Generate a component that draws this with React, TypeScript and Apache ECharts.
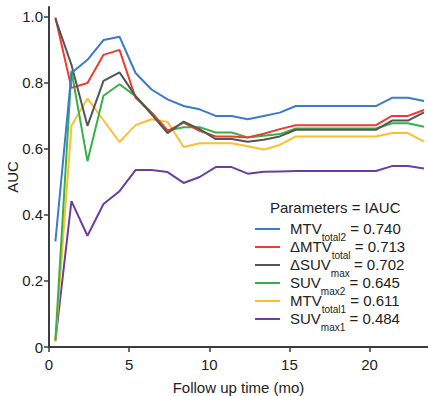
import React, { useEffect, useRef } from "react";
import * as echarts from "echarts";

const months = [0.4, 1.4, 2.4, 3.4, 4.4, 5.4, 6.4, 7.4, 8.4, 9.4, 10.4, 11.4, 12.4, 13.4, 14.4, 15.4, 16.4, 17.4, 18.4, 19.4, 20.4, 21.4, 22.4, 23.4];

const mtvTotal2 = [0.32, 0.83, 0.87, 0.93, 0.94, 0.83, 0.78, 0.75, 0.73, 0.72, 0.70, 0.70, 0.69, 0.70, 0.71, 0.73, 0.73, 0.73, 0.73, 0.73, 0.73, 0.755, 0.755, 0.745];
const dMtvTotal = [0.998, 0.785, 0.80, 0.885, 0.90, 0.755, 0.71, 0.655, 0.68, 0.655, 0.638, 0.638, 0.635, 0.646, 0.66, 0.672, 0.672, 0.672, 0.672, 0.672, 0.672, 0.70, 0.70, 0.718];
const dSuvMax = [0.995, 0.855, 0.67, 0.806, 0.832, 0.76, 0.705, 0.648, 0.683, 0.66, 0.63, 0.63, 0.622, 0.628, 0.638, 0.658, 0.658, 0.658, 0.658, 0.658, 0.658, 0.686, 0.686, 0.711];
const suvMax2 = [0.02, 0.837, 0.563, 0.761, 0.796, 0.76, 0.71, 0.656, 0.666, 0.666, 0.65, 0.65, 0.635, 0.64, 0.645, 0.662, 0.662, 0.662, 0.662, 0.662, 0.662, 0.678, 0.678, 0.667];
const mtvTotal1 = [0.015, 0.67, 0.753, 0.687, 0.621, 0.672, 0.69, 0.682, 0.606, 0.617, 0.617, 0.617, 0.608, 0.598, 0.612, 0.638, 0.638, 0.638, 0.638, 0.638, 0.638, 0.648, 0.648, 0.622];
const suvMax1 = [0.02, 0.442, 0.337, 0.433, 0.472, 0.536, 0.536, 0.53, 0.497, 0.515, 0.545, 0.545, 0.525, 0.531, 0.532, 0.533, 0.533, 0.533, 0.533, 0.533, 0.533, 0.548, 0.548, 0.541];

const xTicks = [0, 5, 10, 15, 20];
const yTicks = [0, 0.2, 0.4, 0.6, 0.8, 1.0];

const legendTitle = "Parameters = IAUC";
const legendOrder = ["MTVtotal2", "dMTVtotal", "dSUVmax", "SUVmax2", "MTVtotal1", "SUVmax1"];
const legendLabels: Record<string, [string, string, string]> = {
  MTVtotal2: ["MTV", "total2", " = 0.740"],
  dMTVtotal: ["ΔMTV", "total", " = 0.713"],
  dSUVmax: ["ΔSUV", "max", " = 0.702"],
  SUVmax2: ["SUV", "max2", " = 0.645"],
  MTVtotal1: ["MTV", "total1", " = 0.611"],
  SUVmax1: ["SUV", "max1", " = 0.484"],
};

const seriesDefs = [
  { name: "SUVmax1", data: suvMax1, color: "#6B3FA0" },
  { name: "MTVtotal1", data: mtvTotal1, color: "#FDBF2D" },
  { name: "SUVmax2", data: suvMax2, color: "#38B04A" },
  { name: "dMTVtotal", data: dMtvTotal, color: "#EE3B2F" },
  { name: "dSUVmax", data: dSuvMax, color: "#555555" },
  { name: "MTVtotal2", data: mtvTotal2, color: "#3A7BCB" },
];

const FONT = "'Liberation Sans', Arial, Helvetica, sans-serif";
const AXIS = "#3d3d3d";
const TXT = "#222";

export default function App() {
  const ref = useRef<HTMLDivElement>(null);
  useEffect(() => {
    if (!ref.current) return;
    const chart = echarts.init(ref.current, null, { renderer: "svg" });
    chart.setOption({
      animation: false,
      backgroundColor: "#fff",
      textStyle: { fontFamily: FONT },
      title: {
        text: legendTitle,
        left: 270,
        top: 199,
        padding: 0,
        textStyle: { fontSize: 15, fontWeight: "normal", color: TXT, fontFamily: FONT, lineHeight: 16 },
      },
      legend: {
        data: legendOrder,
        orient: "vertical",
        left: 255,
        top: 221,
        padding: 0,
        itemGap: -3,
        itemWidth: 25,
        itemHeight: 2,
        icon: "rect",
        formatter: (name: string) => {
          const l = legendLabels[name];
          return `{a|${l[0]}}{s|${l[1]}}{m|${l[2]}}`;
        },
        textStyle: {
          color: TXT,
          fontFamily: FONT,
          rich: {
            a: { fontSize: 15, lineHeight: 16, verticalAlign: "top", padding: [0, 0, 0, 5], color: TXT, fontFamily: FONT },
            s: { fontSize: 10, lineHeight: 10, verticalAlign: "top", padding: [11, 0, 0, 0], color: TXT, fontFamily: FONT },
            m: { fontSize: 15, lineHeight: 16, verticalAlign: "top", color: TXT, fontFamily: FONT },
          },
        },
      },
      grid: { left: 49, right: 0, top: 7, bottom: 49, containLabel: false, outerBoundsMode: "none" },
      xAxis: {
        type: "value",
        min: 0,
        max: 23.65,
        name: "Follow up time (mo)",
        nameLocation: "middle",
        nameGap: 33,
        nameMoveOverlap: false,
        nameTextStyle: { fontSize: 15, color: TXT, fontFamily: FONT },
        splitLine: { show: false },
        axisLine: { show: true, lineStyle: { color: AXIS, width: 2 } },
        axisTick: { show: true, length: 5, customValues: xTicks, lineStyle: { color: AXIS, width: 1.5 } },
        axisLabel: {
          customValues: xTicks,
          margin: 10,
          fontSize: 15,
          color: TXT,
          fontFamily: FONT,
          formatter: (v: number) => String(v),
        },
      },
      yAxis: {
        type: "value",
        min: 0,
        max: 1.03,
        name: "AUC",
        nameLocation: "middle",
        nameGap: 29,
        nameMoveOverlap: false,
        nameTextStyle: { fontSize: 15, color: TXT, fontFamily: FONT },
        splitLine: { show: false },
        axisLine: { show: true, lineStyle: { color: AXIS, width: 2 } },
        axisTick: { show: true, length: 5, customValues: yTicks, lineStyle: { color: AXIS, width: 1.5 } },
        axisLabel: {
          customValues: yTicks,
          margin: 6,
          fontSize: 15,
          color: TXT,
          fontFamily: FONT,
          formatter: (v: number) => (v === 0 ? "0" : v.toFixed(1)),
        },
      },
      series: seriesDefs.map((s) => ({
        name: s.name,
        type: "line",
        data: months.map((m, i) => [m, s.data[i]]),
        showSymbol: false,
        symbol: "none",
        color: s.color,
        itemStyle: { color: s.color },
        lineStyle: { color: s.color, width: 2 },
      })),
    });
    return () => chart.dispose();
  }, []);
  return <div ref={ref} style={{ position: "absolute", left: 0, top: 0, width: 428, height: 396 }} />;
}
